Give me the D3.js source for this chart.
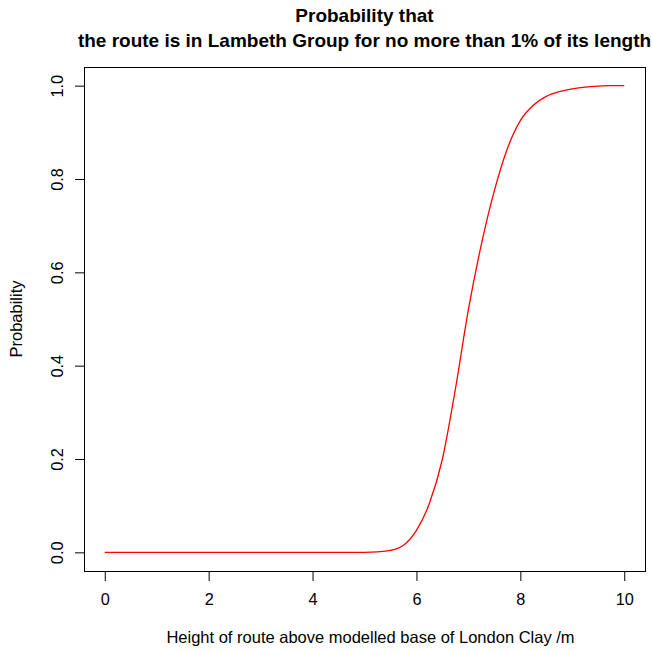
<!DOCTYPE html>
<html><head><meta charset="utf-8">
<script src="https://cdn.jsdelivr.net/npm/d3@7"></script>
<style>body{margin:0;background:#fff}text{font-family:"Liberation Sans",Arial,sans-serif}</style>
</head><body><svg id="c" width="652" height="651"></svg>
<script>
const heights = [0,0.5,1,1.5,2,2.5,3,3.5,4,4.5,5,5.25,5.5,5.75,6,6.25,6.5,6.75,7,7.25,7.5,7.75,8,8.25,8.5,8.75,9,9.25,9.5,9.75,10];
const probs   = [0,0,0,0,0,0,0,0,0,0,0,0.001,0.004,0.015,0.047,0.105,0.20,0.35,0.52,0.66,0.775,0.865,0.925,0.958,0.977,0.987,0.993,0.997,0.999,1.0,1.0];
const xTicks = [0,2,4,6,8,10];
const yTicks = [0,0.2,0.4,0.6,0.8,1.0];
const titleLines = ["Probability that","the route is in Lambeth Group for no more than 1% of its length"];
const xLabel = "Height of route above modelled base of London Clay /m";
const yLabel = "Probability";

const svg = d3.select("#c");
const L=84, R=645, T=67, B=571;
const x = d3.scaleLinear().domain([-0.4,10.4]).range([L,R]);
const y = d3.scaleLinear().domain([-0.04,1.04]).range([B,T]);

svg.append("rect").attr("x",L+0.5).attr("y",T+0.5).attr("width",R-L).attr("height",B-T)
  .attr("fill","none").attr("stroke","#000").attr("stroke-width",1);

const xa = svg.append("g").attr("transform",`translate(0,${B+0.5})`)
  .call(d3.axisBottom(x).tickValues(xTicks).tickFormat(d3.format("d")).tickSize(9.5).tickPadding(12));
xa.select(".domain").attr("d",`M${x(0)},0H${x(10)}`);
xa.selectAll("text").attr("font-size",16.3).attr("font-family","Liberation Sans, Arial, sans-serif").attr("fill","#000");
xa.selectAll("line").attr("stroke","#000");

const ya = svg.append("g").attr("transform",`translate(${L+0.5},0)`)
  .call(d3.axisLeft(y).tickValues(yTicks).tickFormat(d3.format(".1f")).tickSize(9.5));
ya.select(".domain").attr("d",`M0,${y(0)}V${y(1)}`);
ya.selectAll("line").attr("stroke","#000");
ya.selectAll(".tick text").attr("font-size",16.3).attr("font-family","Liberation Sans, Arial, sans-serif").attr("fill","#000")
  .attr("text-anchor","middle").attr("x",0).attr("dy",0)
  .attr("transform","translate(-27,0) rotate(-90)").attr("dy","0.35em");

const line = d3.line().x((d,i)=>x(heights[i])).y(d=>y(d)).curve(d3.curveMonotoneX);
svg.append("path").datum(probs).attr("d",line).attr("fill","none").attr("stroke","#ff0000").attr("stroke-width",1.3);

const cx=(L+R)/2;
svg.append("text").attr("x",cx).attr("y",22).attr("text-anchor","middle").attr("font-weight","bold").attr("font-size",19).text(titleLines[0]);
svg.append("text").attr("x",cx).attr("y",47).attr("text-anchor","middle").attr("font-weight","bold").attr("font-size",19).text(titleLines[1]);
svg.append("text").attr("x",cx+6).attr("y",643).attr("text-anchor","middle").attr("font-size",16.5).text(xLabel);
svg.append("text").attr("transform",`translate(22,${(T+B)/2}) rotate(-90)`).attr("text-anchor","middle").attr("font-size",16.5).text(yLabel);
</script></body></html>
